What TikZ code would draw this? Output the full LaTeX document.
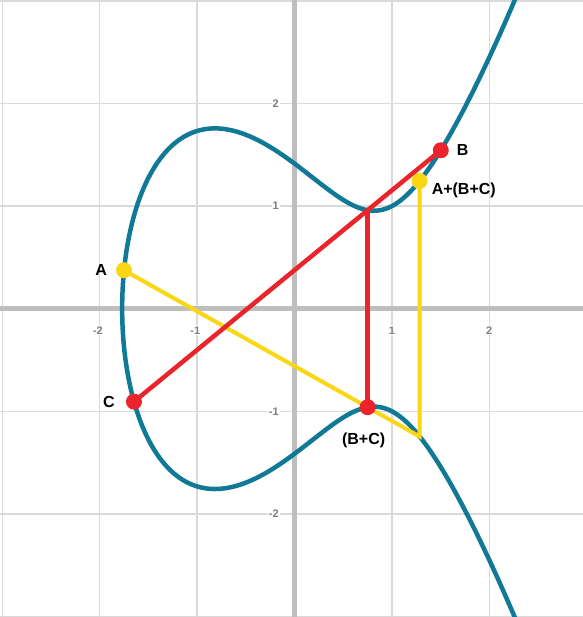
\documentclass[tikz,border=0pt]{standalone}
\usepackage{fontspec}
\setmainfont{Liberation Sans}
\usetikzlibrary{positioning}

\definecolor{curveteal}{RGB}{16,122,150}
\definecolor{ptred}{RGB}{234,36,42}
\definecolor{ptyellow}{RGB}{250,214,20}
\definecolor{gridgray}{RGB}{218,218,218}
\definecolor{axisgray}{RGB}{190,190,190}
\definecolor{tickgray}{RGB}{125,125,125}

\begin{document}
\begin{tikzpicture}[x=97.4pt, y=102.6pt,
  declare function={ec(\u)=sqrt(max(0,(\u)*(\u)*(\u)-2*(\u)+2));},
  gridline/.style={gridgray, line width=1.5pt},
  axisline/.style={axisgray, line width=5pt},
  ticklbl/.style={tickgray, font=\fontsize{11}{13}\selectfont\bfseries, fill=white, inner sep=1pt},
  ecurve/.style={curveteal, line width=4.5pt},
  redline/.style={ptred, line width=4.5pt},
  yellowline/.style={ptyellow, line width=4pt},
  lbl/.style={font=\fontsize{16}{19}\selectfont\bfseries, inner sep=0pt}]

\useasboundingbox (-3.0236,-3.0049) rectangle (2.962,3.0088);
\clip (-3.0236,-3.0049) rectangle (2.962,3.0088);
\fill[white] (-3.0236,-3.0049) rectangle (2.962,3.0088);

% grid and axes
\foreach \i in {-3,...,3}
{
  \draw[gridline] (\i,-3.2) -- (\i,3.2);
  \draw[gridline] (-3.2,\i) -- (3.2,\i);
}
\draw[axisline] (0,-3.2) -- (0,3.2);
\draw[axisline] (-3.2,0) -- (3.2,0);

\foreach \i in {1,2}
{
  \node[ticklbl] (xp\i) at (\i,-0.21) {\i};
  \node[ticklbl] (xm\i) at (-\i,-0.21) {\llap{-}\i};
  \node[ticklbl, anchor=east] (yp\i) at (-0.15,\i) {\i};
  \node[ticklbl, anchor=east] (ym\i) at (-0.15,-\i) {-\i};
}

% y^2 = x^3 - 2x + 2
\draw[ecurve, domain=-2.02:2.02, samples=241, smooth]
  plot ({-1.7693+(\x)*(\x)}, {sign(\x)*ec(-1.7693+(\x)*(\x))});

\coordinate (A) at (-1.75,0.375);
\coordinate (C) at (-1.648,-0.906);
\coordinate (B) at (1.502,1.544);
\coordinate (nBC) at (0.751,0.960);
\coordinate (BC) at (0.751,-0.960);
\coordinate (nABC) at (1.284,-1.245);
\coordinate (ABC) at (1.284,1.245);

\draw[yellowline] (A) -- (nABC) -- (ABC);
\draw[redline] (C) -- (B);
\draw[redline] (nBC) -- (BC);

\foreach \p in {B,C,BC} \fill[ptred] (\p) circle (8pt);
\foreach \p in {A,ABC} \fill[ptyellow] (\p) circle (8pt);

\node[lbl, left=17pt of A] (labA) {A};
\node[lbl, right=16pt of B] (labB) {B};
\node[lbl, left=19pt of C] (labC) {C};
\node[lbl, right=12pt of ABC, yshift=-9pt] (labABC) {A+(B+C)};
\node[lbl, below=26pt of BC, xshift=-4pt] (labBC) {(B+C)};
\end{tikzpicture}
\end{document}
